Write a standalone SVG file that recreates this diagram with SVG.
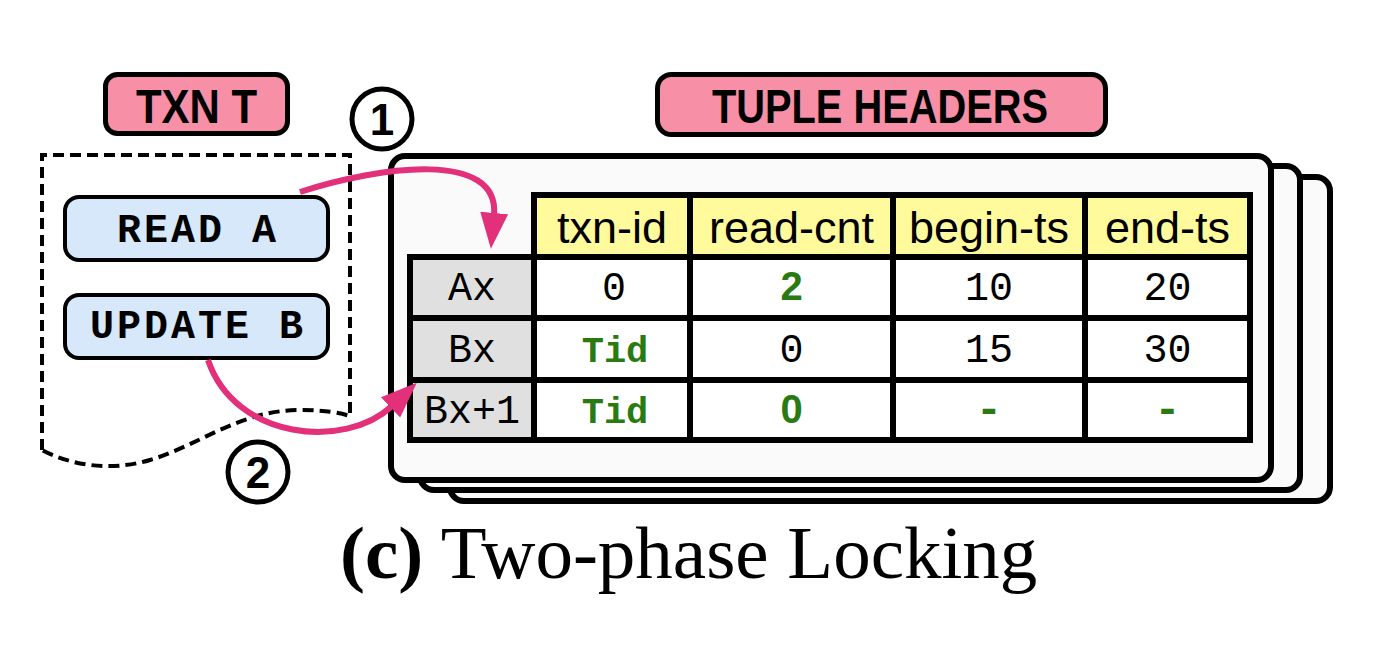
<svg xmlns="http://www.w3.org/2000/svg" width="1378" height="650" viewBox="0 0 1378 650">
<style>
.card{fill:#fafafa;stroke:#000;stroke-width:6}
.lbl{fill:#f78fa6;stroke:#000;stroke-width:5}
.lbltxt{font-family:"Liberation Sans",Arial,sans-serif;font-weight:bold;font-size:48px;text-anchor:middle;fill:#000}
.op{fill:#d6e8f9;stroke:#000;stroke-width:4}
.optxt{font-family:"Liberation Mono","Courier New",monospace;font-weight:bold;font-size:40px;letter-spacing:3px;text-anchor:middle;fill:#000}
.hdr{fill:#fffa9c}
.rl{fill:#e0e0e0}
.cell{fill:#fff}
.grid{stroke:#000;stroke-width:6;fill:none;stroke-linecap:square}
.htxt{font-family:"Liberation Sans",Arial,sans-serif;font-size:45px;text-anchor:middle;fill:#000}
.mono{font-family:"Liberation Mono","Courier New",monospace;font-size:40px;text-anchor:middle;fill:#000}
.gmono{font-family:"Liberation Mono","Courier New",monospace;font-weight:bold;font-size:37px;text-anchor:middle;fill:#2a7a12}
.gdash{font-family:"Liberation Mono","Courier New",monospace;font-weight:bold;font-size:44px;text-anchor:middle;fill:#2a7a12}
.gsans{font-family:"Liberation Sans",Arial,sans-serif;font-weight:bold;font-size:40px;text-anchor:middle;fill:#2a7a12}
.num{fill:#fff;stroke:#000;stroke-width:5}
.numtxt{font-family:"Liberation Sans",Arial,sans-serif;font-weight:bold;font-size:44px;text-anchor:middle;fill:#000}
.arrow{fill:none;stroke:#e2307a;stroke-width:6}
.cap{font-family:"Liberation Serif","Times New Roman",serif;font-size:75px;fill:#000}
</style>
<defs>
<marker id="ah" markerUnits="userSpaceOnUse" markerWidth="40" markerHeight="32" viewBox="0 -16 40 32" refX="2" refY="0" orient="auto">
<path d="M0,-14 L36,0 L0,14 Z" fill="#e2307a"/>
</marker>
</defs>

<g id="cards">
<rect class="card" x="450" y="177" width="880" height="324" rx="14"/>
<rect class="card" x="420" y="166" width="880" height="324" rx="14"/>
<rect class="card" x="391" y="156" width="880" height="324" rx="14"/>
</g>

<g id="txn-label">
<rect class="lbl" x="105.5" y="74.5" width="182" height="59" rx="12"/>
<text class="lbltxt" x="196.5" y="123" textLength="121" lengthAdjust="spacingAndGlyphs">TXN T</text>
</g>

<g id="tuple-label">
<rect class="lbl" x="657.5" y="74.5" width="448" height="60" rx="14"/>
<text class="lbltxt" x="880" y="123" textLength="336" lengthAdjust="spacingAndGlyphs">TUPLE HEADERS</text>
</g>

<g id="txn-box">
<path d="M42,450 V155 H350 V416 C340,413 325,410 300,410 C240,410 200,445 150,460 C110,472 70,465 42,450 Z" fill="#fff" stroke="#000" stroke-width="4" stroke-dasharray="11,6"/>
</g>

<g id="read-a">
<rect class="op" x="65" y="197" width="263" height="63" rx="14"/>
<text class="optxt" x="198" y="242">READ A</text>
</g>

<g id="update-b">
<rect class="op" x="65" y="295" width="263" height="63" rx="14"/>
<text class="optxt" x="198" y="338">UPDATE B</text>
</g>

<g id="table">
<rect class="hdr" x="534" y="195" width="716" height="62"/>
<rect class="rl" x="410" y="257" width="124" height="183"/>
<rect class="cell" x="534" y="257" width="716" height="183"/>
<path class="grid" d="M534,195 H1250 V440 H410 V257 H1250 M410,318 H1250 M410,380 H1250 M534,195 V440 M690,195 V440 M893,195 V440 M1085,195 V440"/>
<text class="htxt" x="612" y="243">txn-id</text>
<text class="htxt" x="791.5" y="243">read-cnt</text>
<text class="htxt" x="989" y="243">begin-ts</text>
<text class="htxt" x="1167.5" y="243">end-ts</text>

<text class="mono" x="472" y="300">Ax</text>
<text class="mono" x="614" y="300">0</text>
<text class="gsans" x="791.5" y="300">2</text>
<text class="mono" x="989" y="300">10</text>
<text class="mono" x="1167.5" y="300">20</text>

<text class="mono" x="472" y="362">Bx</text>
<text class="gmono" x="615" y="362">Tid</text>
<text class="mono" x="791.5" y="362">0</text>
<text class="mono" x="989" y="362">15</text>
<text class="mono" x="1167.5" y="362">30</text>

<text class="mono" x="472" y="423">Bx+1</text>
<text class="gmono" x="615" y="423">Tid</text>
<text class="gsans" x="791.5" y="423">0</text>
<text class="gdash" x="989" y="423">-</text>
<text class="gdash" x="1167.5" y="423">-</text>
</g>

<g id="step1">
<circle class="num" cx="382" cy="119" r="30"/>
<text class="numtxt" x="382" y="135">1</text>
</g>

<g id="step2">
<circle class="num" cx="258" cy="472" r="30"/>
<text class="numtxt" x="258" y="488">2</text>
</g>

<g id="connectors">
<path class="arrow" d="M300,192 C380,166 500,150 494,215" marker-end="url(#ah)"/>
<path class="arrow" d="M208,360 C235,440 345,450 392,406" marker-end="url(#ah)"/>
</g>

<g id="caption">
<text class="cap" x="340" y="578"><tspan font-weight="bold">(c)</tspan> Two-phase Locking</text>
</g>
</svg>
